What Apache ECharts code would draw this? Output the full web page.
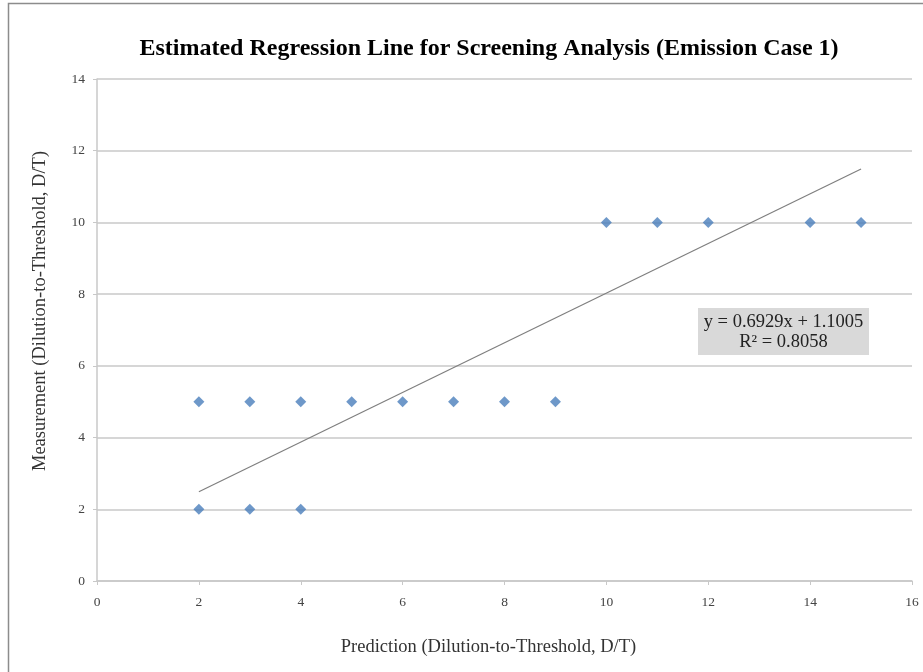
<!DOCTYPE html>
<html>
<head>
<meta charset="utf-8">
<script src="https://cdn.jsdelivr.net/npm/echarts@6/dist/echarts.min.js"></script>
<style>
  html, body { margin: 0; padding: 0; background: #fff; }
  #chart { width: 923px; height: 672px; }
</style>
</head>
<body>
<div id="chart"></div>
<script>
// observed points: [prediction, measurement]
const points = [
  [2, 5], [3, 5], [4, 5], [5, 5], [6, 5], [7, 5], [8, 5], [9, 5],
  [2, 2], [3, 2], [4, 2],
  [10, 10], [11, 10], [12, 10], [14, 10], [15, 10]
];
// trend line endpoints
const trendLine = [[2, 2.49], [15, 11.49]];
const equationLines = ["y = 0.6929x + 1.1005", "R\u00b2 = 0.8058"];

const serif = "'Liberation Serif', 'DejaVu Serif', serif";
const chart = echarts.init(document.getElementById("chart"));

chart.setOption({
  animation: false,
  title: {
    text: "Estimated Regression Line for Screening Analysis (Emission Case 1)",
    left: 484,
    top: 32,
    textAlign: "center",
    textStyle: { fontFamily: serif, fontSize: 24, fontWeight: "bold", color: "#000" }
  },
  grid: { left: 97, right: 11, top: 79, bottom: 91 },
  xAxis: {
    type: "value",
    min: 0, max: 16, interval: 2,
    name: "Prediction (Dilution-to-Threshold, D/T)",
    nameLocation: "middle",
    nameGap: 57,
    nameTextStyle: { fontFamily: serif, fontSize: 18.5, color: "#333", padding: [0, 32, 0, 0] },
    axisLine: { show: true, lineStyle: { color: "#c8c8c8", width: 1.5 } },
    axisTick: { show: true, length: 4, lineStyle: { color: "#c8c8c8" } },
    axisLabel: { fontFamily: serif, fontSize: 13.5, color: "#444", margin: 14 },
    splitLine: { show: false }
  },
  yAxis: {
    type: "value",
    min: 0, max: 14, interval: 2,
    name: "Measurement (Dilution-to-Threshold, D/T)",
    nameLocation: "middle",
    nameGap: 47,
    nameTextStyle: { fontFamily: serif, fontSize: 18.5, color: "#333", padding: [0, 0, 0, 38] },
    axisLine: { show: true, lineStyle: { color: "#c8c8c8", width: 1.5 } },
    axisTick: { show: true, length: 4, lineStyle: { color: "#c8c8c8" } },
    axisLabel: { fontFamily: serif, fontSize: 13.5, color: "#444", margin: 12 },
    splitLine: { show: true, lineStyle: { color: "#c8c8c8", width: 1.5 } }
  },
  series: [
    {
      type: "line",
      data: trendLine,
      showSymbol: false,
      symbol: "none",
      lineStyle: { color: "#7f7f7f", width: 1.2 },
      z: 2
    },
    {
      type: "scatter",
      data: points,
      symbol: "diamond",
      symbolSize: 11,
      itemStyle: { color: "#4a7ebb" },
      z: 3
    }
  ],
  graphic: [
    {
      type: "rect",
      shape: { x: 8.5, y: 3.5, width: 960, height: 720 },
      style: { fill: "none", stroke: "#8c8c8c", lineWidth: 1.5 },
      silent: true,
      z: -1
    },
    {
      type: "group",
      left: 698,
      top: 308,
      children: [
        {
          type: "rect",
          shape: { x: 0, y: 0, width: 171, height: 47 },
          style: { fill: "#d9d9d9" }
        },
        {
          type: "text",
          x: 85.5,
          y: 24,
          style: {
            text: equationLines.join("\n"),
            fontFamily: serif,
            fontSize: 18.5,
            lineHeight: 20,
            fill: "#222",
            align: "center",
            verticalAlign: "middle"
          }
        }
      ]
    }
  ]
});
</script>
</body>
</html>
